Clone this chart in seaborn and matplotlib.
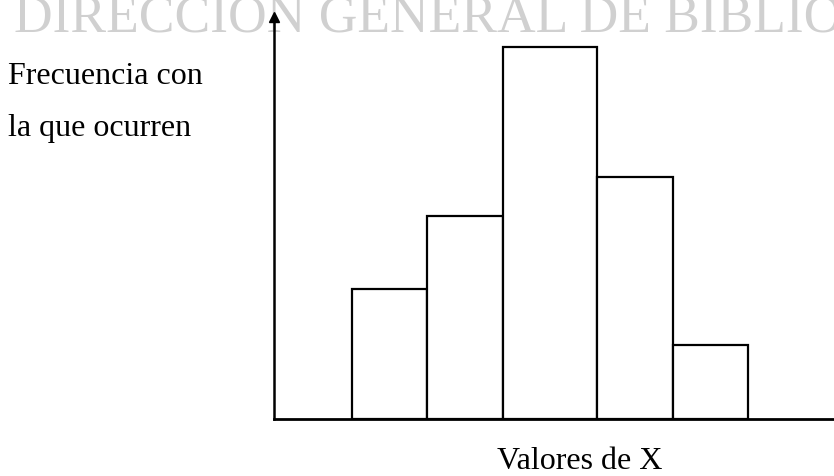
#!/usr/bin/env python3
"""
Histograma esquemático: frecuencia con la que ocurren los valores de X
"""

import numpy as np
import matplotlib
matplotlib.use('Agg')
import matplotlib.pyplot as plt
import seaborn as sns

# datos (alturas relativas de las barras)
bordes_clases = [1.0, 2.0, 3.0, 4.25, 5.25, 6.25]
frecuencias = [3.5, 5.45, 10.0, 6.5, 2.0]
etiqueta_y = ['Frecuencia con', 'la que ocurren']
etiqueta_x = 'Valores de X'
marca_agua = 'DIRECCION GENERAL DE BIBLIOTECAS'

W, H = 834, 477

sns.set_style('white')
plt.rcParams['font.family'] = ['Liberation Serif', 'DejaVu Serif']
plt.rcParams['text.color'] = 'black'

fig = plt.figure(figsize=(W / 100, H / 100), dpi=100)
fig.patch.set_facecolor('white')
ax = fig.add_axes([274 / W, 1 - 420 / H, 1 - 274 / W, (420 - 18) / H])
ax.set_facecolor('none')
ax.set_zorder(2)

centros = (np.array(bordes_clases[:-1]) + np.array(bordes_clases[1:])) / 2
sns.histplot(x=centros, weights=frecuencias, bins=bordes_clases, ax=ax,
             color='white', edgecolor='black', linewidth=1.6, alpha=1)

ax.set_xlim(-0.034, 7.39)
ax.set_ylim(0, 10 * 402 / 372)
ax.set_xticks([])
ax.set_yticks([])
ax.set_xlabel('')
ax.set_ylabel('')
for lado in ['top', 'right']:
    ax.spines[lado].set_visible(False)
ax.spines['left'].set_linewidth(1.8)
ax.spines['bottom'].set_linewidth(2.0)
ax.spines['left'].set_color('black')
ax.spines['bottom'].set_color('black')

# punta de flecha del eje vertical
ax.plot([0], [1], marker='^', color='black', markersize=7,
        transform=ax.transAxes, clip_on=False, zorder=5)

# textos
fig.text(8 / W, 1 - 84 / H, etiqueta_y[0], fontsize=23, va='baseline', ha='left')
fig.text(8 / W, 1 - 136 / H, etiqueta_y[1], fontsize=23, va='baseline', ha='left')
fig.text(497 / W, 1 - 469 / H, etiqueta_x, fontsize=23, va='baseline', ha='left')

# marca de agua del escaneo (detrás de los ejes)
fig.text(14 / W, 1 - 31 / H, marca_agua, fontsize=38.5, color='#d0d0d0',
         va='baseline', ha='left', zorder=0)

fig.savefig('out.png', dpi=100)
